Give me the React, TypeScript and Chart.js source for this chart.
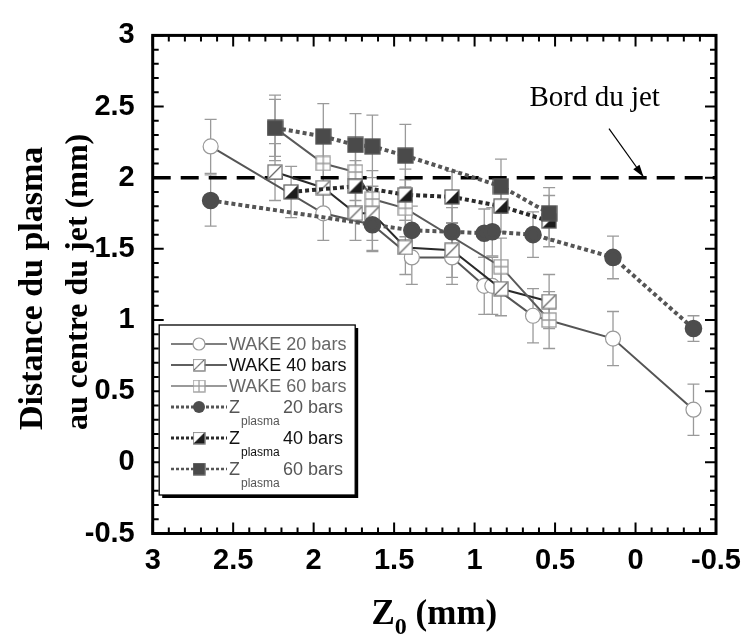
import React, { useEffect, useRef } from "react";
import { Chart, registerables } from "chart.js";
Chart.register(...registerables);

// ---- data ----
const wake20X = [2.64, 1.94, 1.635, 1.39, 1.14, 0.94, 0.89, 0.637, 0.14, -0.36];
const wake20Y = [2.22, 1.75, 1.67, 1.44, 1.44, 1.24, 1.24, 1.03, 0.87, 0.37];
const wake20Err = [0.19, 0.19, 0.19, 0.19, 0.19, 0.2, 0.2, 0.19, 0.19, 0.18];

const wake40X = [2.24, 1.94, 1.74, 1.635, 1.43, 1.14, 0.836, 0.537];
const wake40Y = [2.04, 1.93, 1.75, 1.75, 1.51, 1.49, 1.22, 1.13];
const wake40Err = [0.2, 0.2, 0.19, 0.19, 0.19, 0.19, 0.19, 0.19];

const wake60X = [2.24, 1.94, 1.74, 1.635, 1.43, 0.836, 0.537];
const wake60Y = [2.35, 2.1, 2.04, 1.85, 1.785, 1.375, 1.0];
const wake60Err = [0.2, 0.2, 0.2, 0.2, 0.2, 0.2, 0.2];

const z20X = [2.64, 1.635, 1.39, 1.14, 0.94, 0.89, 0.637, 0.14, -0.36];
const z20Y = [1.84, 1.67, 1.63, 1.62, 1.61, 1.62, 1.6, 1.44, 0.94];
const z20Err = [0.18, 0.18, 0.17, 0.17, 0.17, 0.17, 0.16, 0.15, 0.09];

const z40X = [2.14, 1.74, 1.43, 1.14, 0.836, 0.537];
const z40Y = [1.9, 1.94, 1.88, 1.865, 1.8, 1.695];
const z40Err = [0.18, 0.18, 0.18, 0.18, 0.18, 0.18];

const z60X = [2.24, 1.94, 1.74, 1.635, 1.43, 0.836, 0.537];
const z60Y = [2.35, 2.29, 2.23, 2.22, 2.155, 1.94, 1.75];
const z60Err = [0.23, 0.23, 0.22, 0.22, 0.22, 0.19, 0.18];

const bordX = [3, -0.5];
const bordY = [2, 2];
const bordLabel = "Bord du jet";
const bordLabelPos = [0.254, 2.505];
const arrowFrom = [0.165, 2.345];
const arrowTo = [-0.05, 2.005];

const xTickValues = [3, 2.5, 2, 1.5, 1, 0.5, 0, -0.5];
const yTickValues = [-0.5, 0, 0.5, 1, 1.5, 2, 2.5, 3];
const xTitleMain = "Z";
const xTitleSub = "0";
const xTitleRest = " (mm)";
const yTitleLines = ["Distance du plasma", "au centre du jet (mm)"];

const legendMain = ["WAKE 20 bars", "WAKE 40 bars", "WAKE 60 bars", "Z", "Z", "Z"];
const legendSub = ["", "", "", "plasma", "plasma", "plasma"];
const legendRest = ["", "", "", "20 bars", "40 bars", "60 bars"];

const toPts = (xs: number[], ys: number[]) => xs.map((x, i) => ({ x, y: ys[i] }));

function makeMarker(kind: string, size: number): HTMLCanvasElement {
  const c = document.createElement("canvas");
  c.width = size;
  c.height = size;
  const g = c.getContext("2d")!;
  const a = 1;
  const b = size - 1;
  g.lineWidth = 1.3;
  if (kind === "diag") {
    g.fillStyle = "#fff";
    g.fillRect(a, a, b - a, b - a);
    g.strokeStyle = "#666";
    g.beginPath();
    g.moveTo(a + 1, b - 1);
    g.lineTo(b - 1, a + 1);
    g.stroke();
    g.strokeStyle = "#777";
    g.strokeRect(a, a, b - a, b - a);
  } else if (kind === "plus") {
    g.fillStyle = "#fff";
    g.fillRect(a, a, b - a, b - a);
    g.strokeStyle = "#999";
    g.beginPath();
    g.moveTo(size / 2, a);
    g.lineTo(size / 2, b);
    g.moveTo(a, size / 2);
    g.lineTo(b, size / 2);
    g.stroke();
    g.strokeRect(a, a, b - a, b - a);
  } else if (kind === "half") {
    g.fillStyle = "#fff";
    g.fillRect(a, a, b - a, b - a);
    g.fillStyle = "#1c1c1c";
    g.beginPath();
    g.moveTo(a, b);
    g.lineTo(b, b);
    g.lineTo(b, a);
    g.closePath();
    g.fill();
    g.strokeStyle = "#666";
    g.strokeRect(a, a, b - a, b - a);
  } else if (kind === "full") {
    g.fillStyle = "#4a4a4a";
    g.fillRect(a, a, b - a, b - a);
    g.strokeStyle = "#555";
    g.strokeRect(a, a, b - a, b - a);
  }
  return c;
}

export default function App() {
  const ref = useRef<HTMLCanvasElement | null>(null);

  useEffect(() => {
    if (!ref.current) return;
    const diag = makeMarker("diag", 16);
    const plus = makeMarker("plus", 16);
    const half = makeMarker("half", 16);
    const full = makeMarker("full", 17);

    const errorSets = [
      { xs: wake20X, ys: wake20Y, es: wake20Err },
      { xs: wake40X, ys: wake40Y, es: wake40Err },
      { xs: wake60X, ys: wake60Y, es: wake60Err },
      { xs: z20X, ys: z20Y, es: z20Err },
      { xs: z40X, ys: z40Y, es: z40Err },
      { xs: z60X, ys: z60Y, es: z60Err },
    ];

    const legendSpecs = [
      { color: "#555", width: 1.6, dash: [] as number[], marker: "circleOpen", text: "#666" },
      { color: "#2a2a2a", width: 1.6, dash: [], marker: diag, text: "#111" },
      { color: "#777", width: 1.4, dash: [], marker: plus, text: "#666" },
      { color: "#555", width: 3, dash: [3, 2], marker: "circleFull", text: "#555" },
      { color: "#2a2a2a", width: 3, dash: [3, 2], marker: half, text: "#111" },
      { color: "#555", width: 2.5, dash: [3, 2], marker: full, text: "#555" },
    ];

    const errorPlugin = {
      id: "errorBars",
      beforeDatasetsDraw(chart: any) {
        const { ctx, scales } = chart;
        const xs = scales.x;
        const ys = scales.y;
        ctx.save();
        ctx.strokeStyle = "#9a9a9a";
        ctx.lineWidth = 1.3;
        errorSets.forEach((s) => {
          s.xs.forEach((xv, i) => {
            const px = xs.getPixelForValue(xv);
            const pt = ys.getPixelForValue(s.ys[i] + s.es[i]);
            const pb = ys.getPixelForValue(s.ys[i] - s.es[i]);
            ctx.beginPath();
            ctx.moveTo(px, pt);
            ctx.lineTo(px, pb);
            ctx.moveTo(px - 6, pt);
            ctx.lineTo(px + 6, pt);
            ctx.moveTo(px - 6, pb);
            ctx.lineTo(px + 6, pb);
            ctx.stroke();
          });
        });
        ctx.restore();
      },
    };

    const decoPlugin = {
      id: "deco",
      afterDraw(chart: any) {
        const { ctx, chartArea, scales } = chart;
        const xs = scales.x;
        const ys = scales.y;
        const { left, right, top, bottom } = chartArea;
        ctx.save();
        // inward ticks
        ctx.strokeStyle = "#000";
        ctx.lineWidth = 2;
        for (let k = -5; k <= 30; k++) {
          const v = k / 10;
          const major = k % 5 === 0;
          const len = major ? 11 : 6;
          const px = xs.getPixelForValue(v);
          ctx.beginPath();
          ctx.moveTo(px, bottom);
          ctx.lineTo(px, bottom - len);
          ctx.moveTo(px, top);
          ctx.lineTo(px, top + len);
          ctx.stroke();
          const py = ys.getPixelForValue(v);
          ctx.beginPath();
          ctx.moveTo(left, py);
          ctx.lineTo(left + len, py);
          ctx.moveTo(right, py);
          ctx.lineTo(right - len, py);
          ctx.stroke();
        }
        // frame
        ctx.lineWidth = 3;
        ctx.strokeRect(left, top, right - left, bottom - top);

        // annotation
        ctx.fillStyle = "#000";
        ctx.font = "29px 'Liberation Serif', serif";
        ctx.textAlign = "center";
        ctx.textBaseline = "alphabetic";
        ctx.fillText(bordLabel, xs.getPixelForValue(bordLabelPos[0]), ys.getPixelForValue(bordLabelPos[1]));
        const ax0 = xs.getPixelForValue(arrowFrom[0]);
        const ay0 = ys.getPixelForValue(arrowFrom[1]);
        const ax1 = xs.getPixelForValue(arrowTo[0]);
        const ay1 = ys.getPixelForValue(arrowTo[1]);
        ctx.lineWidth = 1.2;
        ctx.beginPath();
        ctx.moveTo(ax0, ay0);
        ctx.lineTo(ax1, ay1);
        ctx.stroke();
        const ang = Math.atan2(ay1 - ay0, ax1 - ax0);
        ctx.beginPath();
        ctx.moveTo(ax1, ay1);
        ctx.lineTo(ax1 - 13 * Math.cos(ang - 0.3), ay1 - 13 * Math.sin(ang - 0.3));
        ctx.lineTo(ax1 - 13 * Math.cos(ang + 0.3), ay1 - 13 * Math.sin(ang + 0.3));
        ctx.closePath();
        ctx.fill();

        // y title (rotated, baseline-anchored, starting at the bottom)
        ctx.textBaseline = "alphabetic";
        ctx.textAlign = "left";
        const yBase = [42, 87];
        const ySizes = [34, 32];
        yTitleLines.forEach((line, i) => {
          ctx.save();
          ctx.font = `bold ${ySizes[i]}px 'Liberation Serif', serif`;
          ctx.translate(yBase[i], 430);
          ctx.rotate(-Math.PI / 2);
          ctx.fillText(line, 0, 0);
          ctx.restore();
        });

        // x title with subscript
        const fMain = "bold 35px 'Liberation Serif', serif";
        const fSub = "bold 24px 'Liberation Serif', serif";
        ctx.textAlign = "left";
        ctx.textBaseline = "alphabetic";
        ctx.font = fMain;
        const wZ = ctx.measureText(xTitleMain).width;
        const wR = ctx.measureText(xTitleRest).width;
        ctx.font = fSub;
        const wS = ctx.measureText(xTitleSub).width;
        const total = wZ + wS + wR;
        let tx = (left + right) / 2 - total / 2;
        const base = 624;
        ctx.font = fMain;
        ctx.fillText(xTitleMain, tx, base);
        tx += wZ;
        ctx.font = fSub;
        ctx.fillText(xTitleSub, tx, base + 10);
        tx += wS;
        ctx.font = fMain;
        ctx.fillText(xTitleRest, tx, base);

        // legend box
        const lx = left + 6.5;
        const ly = 325;
        const lw = 196;
        const lh = 170;
        ctx.fillStyle = "#000";
        ctx.fillRect(lx + 3, ly + 3, lw, lh);
        ctx.fillStyle = "#fff";
        ctx.fillRect(lx, ly, lw, lh);
        ctx.strokeStyle = "#000";
        ctx.lineWidth = 1.3;
        ctx.strokeRect(lx, ly, lw, lh);
        const rowY = [344, 365, 386, 407, 438, 469];
        legendSpecs.forEach((sp, i) => {
          const y = rowY[i];
          ctx.save();
          ctx.strokeStyle = sp.color;
          ctx.lineWidth = sp.width;
          ctx.setLineDash(sp.dash);
          ctx.beginPath();
          ctx.moveTo(171, y);
          ctx.lineTo(227, y);
          ctx.stroke();
          ctx.restore();
          const mx = 199;
          if (sp.marker === "circleOpen") {
            ctx.beginPath();
            ctx.arc(mx, y, 6, 0, Math.PI * 2);
            ctx.fillStyle = "#fff";
            ctx.fill();
            ctx.strokeStyle = "#999";
            ctx.lineWidth = 1.2;
            ctx.stroke();
          } else if (sp.marker === "circleFull") {
            ctx.beginPath();
            ctx.arc(mx, y, 6, 0, Math.PI * 2);
            ctx.fillStyle = "#4d4d4d";
            ctx.fill();
          } else {
            ctx.drawImage(sp.marker as HTMLCanvasElement, mx - 6.5, y - 6.5, 13, 13);
          }
          ctx.fillStyle = sp.text;
          ctx.textAlign = "left";
          ctx.textBaseline = "middle";
          ctx.font = "18px 'Liberation Sans', Arial, sans-serif";
          ctx.fillText(legendMain[i], 229, y + 1);
          if (legendSub[i]) {
            const wz = ctx.measureText(legendMain[i]).width;
            ctx.font = "12px 'Liberation Sans', Arial, sans-serif";
            ctx.fillText(legendSub[i], 229 + wz + 1, y + 15);
            ctx.font = "18px 'Liberation Sans', Arial, sans-serif";
            ctx.fillText(legendRest[i], 283, y + 1);
          }
        });
        ctx.restore();
      },
    };

    const chart = new Chart(ref.current, {
      type: "line",
      data: {
        datasets: [
          {
            label: "Zplasma 60 bars",
            data: toPts(z60X, z60Y),
            borderColor: "#555",
            borderWidth: 4,
            borderDash: [4, 3],
            pointStyle: full as any,
            pointRadius: 8,
            order: 0,
          },
          {
            label: "Zplasma 40 bars",
            data: toPts(z40X, z40Y),
            borderColor: "#2a2a2a",
            borderWidth: 4,
            borderDash: [4, 3],
            pointStyle: half as any,
            pointRadius: 8,
            order: 1,
          },
          {
            label: "Zplasma 20 bars",
            data: toPts(z20X, z20Y),
            borderColor: "#555",
            borderWidth: 4,
            borderDash: [4, 3],
            pointStyle: "circle",
            pointRadius: 6.8,
            pointBackgroundColor: "#4d4d4d",
            pointBorderColor: "#4d4d4d",
            order: 2,
          },
          {
            label: "WAKE 60 bars",
            data: toPts(wake60X, wake60Y),
            borderColor: "#5a5a5a",
            borderWidth: 2,
            pointStyle: plus as any,
            pointRadius: 8,
            order: 3,
          },
          {
            label: "WAKE 40 bars",
            data: toPts(wake40X, wake40Y),
            borderColor: "#2a2a2a",
            borderWidth: 2,
            pointStyle: diag as any,
            pointRadius: 8,
            order: 4,
          },
          {
            label: "WAKE 20 bars",
            data: toPts(wake20X, wake20Y),
            borderColor: "#555",
            borderWidth: 2,
            pointStyle: "circle",
            pointRadius: 7.5,
            pointBackgroundColor: "#fff",
            pointBorderColor: "#999",
            pointBorderWidth: 1.2,
            order: 5,
          },
          {
            label: "Bord du jet",
            data: toPts(bordX, bordY),
            borderColor: "#000",
            borderWidth: 3.5,
            borderDash: [18, 10],
            pointRadius: 0,
            order: 10,
          },
        ],
      },
      options: {
        responsive: false,
        animation: false,
        layout: { padding: { left: 0, top: 23, right: 26, bottom: 0 } },
        plugins: { legend: { display: false }, tooltip: { enabled: false } },
        scales: {
          x: {
            type: "linear",
            reverse: true,
            min: -0.5,
            max: 3,
            afterFit: (s: any) => {
              s.height = 642 - 533.5;
            },
            afterBuildTicks: (s: any) => {
              s.ticks = xTickValues.map((v) => ({ value: v }));
            },
            grid: { display: false, drawTicks: false },
            border: { display: false },
            ticks: {
              padding: 10,
              color: "#000",
              font: { family: "'Liberation Sans', Arial, sans-serif", size: 29, weight: "bold" },
              callback: (v: any) => String(v),
              maxRotation: 0,
              autoSkip: false,
            },
          },
          y: {
            type: "linear",
            min: -0.5,
            max: 3,
            afterFit: (s: any) => {
              s.width = 152.7;
            },
            afterBuildTicks: (s: any) => {
              s.ticks = yTickValues.map((v) => ({ value: v }));
            },
            grid: { display: false, drawTicks: false },
            border: { display: false },
            ticks: {
              padding: 18,
              color: "#000",
              font: { family: "'Liberation Sans', Arial, sans-serif", size: 29, weight: "bold" },
              callback: (v: any) => String(v),
              autoSkip: false,
            },
          },
        },
      },
      plugins: [errorPlugin, decoPlugin],
    } as any);
    return () => chart.destroy();
  }, []);

  return (
    <div style={{ position: "absolute", left: 0, top: 0, width: 751, height: 642, background: "#fff" }}>
      <canvas ref={ref} width={751} height={642} />
    </div>
  );
}
